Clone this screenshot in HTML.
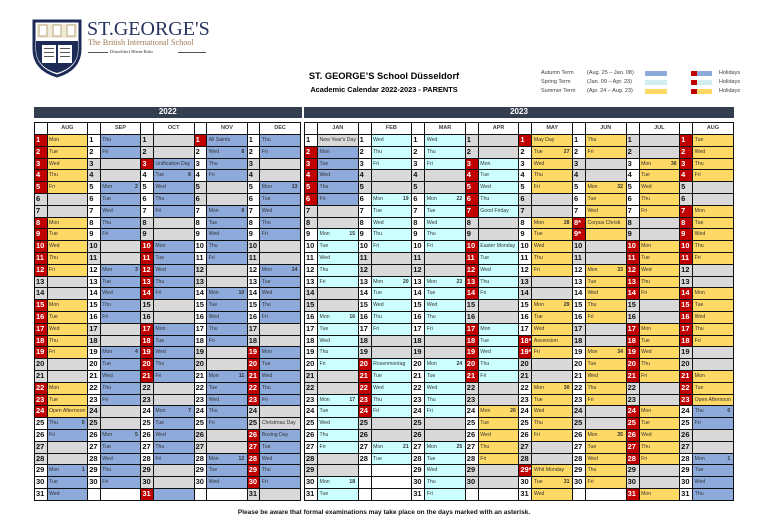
<!DOCTYPE html>
<html><head><meta charset="utf-8">
<style>
*{margin:0;padding:0}
html,body{width:768px;height:532px;background:#fff;overflow:hidden;position:relative;font-family:"Liberation Sans",sans-serif}
.abs{position:absolute}
.bar{position:absolute;top:107px;height:10.5px;background:#333f4f;color:#fff;font:bold 8px/10.5px "Liberation Sans",sans-serif;text-align:center}
.hd{position:absolute;top:122px;height:12px;display:grid;border-top:1px solid #111;border-right:1.5px solid #111;box-sizing:border-box}
.hd div{box-sizing:border-box;background:#fff;border-left:1px solid #111;font:bold 5.5px/11px "Liberation Sans",sans-serif;color:#404040;text-align:center}
.hd div.h{border-left:1.5px solid #111}
.y{position:absolute;top:134px;display:grid;grid-auto-rows:11.8px;border-top:1px solid #111;border-right:1.5px solid #111;box-sizing:content-box}
.y div{box-sizing:border-box;border-bottom:1px solid #111;overflow:hidden;white-space:nowrap;color:#333;border-left:1px solid #111;font:5.2px/10.8px "Liberation Sans",sans-serif;padding:0 1.5px}
.y div.nw,.y div.ng,.y div.nr,.y div.ne{border-left:1.5px solid #111;font:bold 7.5px/10.8px "Liberation Sans",sans-serif;padding:0 0 0 1px;color:#111}
.nw,.ne,.e{background:#fff}
.ng,.g{background:#d9d9d9}
.y div.nr{background:#c00000;color:#fff}
.b{background:#8eaadb}
.c{background:#ccffff}
.o{background:#ffd966}
.y i{float:right;font-style:normal;font-weight:bold;padding-right:1px}
.y22{left:34px;grid-template-columns:repeat(5,12.5px 40.7px)}
.y23{left:304px;grid-template-columns:repeat(8,13px 40.6px)}
.lg{position:absolute;font:5.5px/7px "Liberation Sans",sans-serif;color:#404040}
.sw{position:absolute;height:5px}
</style></head><body>

<!-- Logo -->
<svg class="abs" style="left:32px;top:19px" width="50" height="59" viewBox="0 0 50 59">
<path d="M2 2 H48 V30 Q48 50 25 57 Q2 50 2 30 Z" fill="#fff" stroke="#1d2b57" stroke-width="3"/>
<rect x="5" y="5" width="40" height="14" fill="#f2ead8"/>
<rect x="7" y="6" width="8" height="11" fill="#fff" stroke="#b9a77c" stroke-width="1"/>
<rect x="21" y="6" width="8" height="11" fill="#fff" stroke="#b9a77c" stroke-width="1"/>
<rect x="35" y="6" width="8" height="11" fill="#fff" stroke="#b9a77c" stroke-width="1"/>
<path d="M4 22 H46 V30 Q46 48 25 54 Q4 48 4 30 Z" fill="#1d2b57"/>
<rect x="10" y="26" width="30" height="18" fill="#fff"/>
<rect x="24" y="26" width="2" height="18" fill="#1d2b57"/>
<rect x="12" y="29" width="10" height="1" fill="#555"/><rect x="28" y="29" width="10" height="1" fill="#555"/>
<rect x="12" y="33" width="10" height="1" fill="#555"/><rect x="28" y="33" width="10" height="1" fill="#555"/>
<rect x="12" y="37" width="10" height="1" fill="#555"/><rect x="28" y="37" width="10" height="1" fill="#555"/>
</svg>
<div class="abs" style="left:87px;top:18px;font:20px/22px 'Liberation Serif',serif;color:#27335e">ST.GEORGE'S</div>
<div class="abs" style="left:88px;top:38px;font:8.2px/10px 'Liberation Serif',serif;color:#a07a55">The British International School</div>
<div class="abs" style="left:88px;top:52px;width:20px;height:0;border-top:0.7px solid #555"></div>
<div class="abs" style="left:110px;top:49px;font:4.6px/6px 'Liberation Serif',serif;color:#333">Düsseldorf Rhein-Ruhr</div>
<div class="abs" style="left:178px;top:52px;width:28px;height:0;border-top:0.7px solid #555"></div>

<!-- Titles -->
<div class="abs" style="left:300px;top:70px;width:168px;text-align:center;font:bold 9.3px/12px 'Liberation Sans',sans-serif;color:#000">ST. GEORGE’S School Düsseldorf</div>
<div class="abs" style="left:296px;top:85px;width:176px;text-align:center;font:bold 7.4px/10px 'Liberation Sans',sans-serif;color:#000">Academic Calendar 2022-2023 - PARENTS</div>

<!-- Legend -->
<div class="lg" style="left:541px;top:69.5px">Autumn Term</div>
<div class="lg" style="left:587px;top:69.5px">(Aug. 25 – Jan. 08)</div>
<div class="sw b" style="left:645px;top:71px;width:22px"></div>
<div class="sw" style="left:691px;top:71px;width:6px;background:#c00000"></div>
<div class="sw b" style="left:697px;top:71px;width:15px"></div>
<div class="lg" style="left:719px;top:69.5px">Holidays</div>

<div class="lg" style="left:541px;top:78.5px">Spring Term</div>
<div class="lg" style="left:587px;top:78.5px">(Jan. 09 – Apr. 23)</div>
<div class="sw c" style="left:645px;top:80px;width:22px;background:#d3eef0"></div>
<div class="sw" style="left:691px;top:80px;width:6px;background:#c00000"></div>
<div class="sw" style="left:697px;top:80px;width:15px;background:#d3eef0"></div>
<div class="lg" style="left:719px;top:78.5px">Holidays</div>

<div class="lg" style="left:541px;top:87.5px">Summer Term</div>
<div class="lg" style="left:587px;top:87.5px">(Apr. 24 – Aug. 23)</div>
<div class="sw o" style="left:645px;top:89px;width:22px"></div>
<div class="sw" style="left:691px;top:89px;width:6px;background:#c00000"></div>
<div class="sw o" style="left:697px;top:89px;width:15px"></div>
<div class="lg" style="left:719px;top:87.5px">Holidays</div>

<!-- Year bars -->
<div class="bar" style="left:34px;width:267.5px">2022</div>
<div class="bar" style="left:304px;width:430px">2023</div>

<!-- Month headers -->
<div class="hd" style="left:34px;grid-template-columns:repeat(5,12.5px 40.7px)">
<div class="h"></div><div>AUG</div><div class="h"></div><div>SEP</div><div class="h"></div><div>OCT</div><div class="h"></div><div>NOV</div><div class="h"></div><div>DEC</div>
</div>
<div class="hd" style="left:304px;grid-template-columns:repeat(8,13px 40.6px)">
<div class="h"></div><div>JAN</div><div class="h"></div><div>FEB</div><div class="h"></div><div>MAR</div><div class="h"></div><div>APR</div><div class="h"></div><div>MAY</div><div class="h"></div><div>JUN</div><div class="h"></div><div>JUL</div><div class="h"></div><div>AUG</div>
</div>

<!-- 2022 grid -->
<div class="y y22">
<div class="nr">1</div><div class="o">Mon</div><div class="nw">1</div><div class="b">Thu</div><div class="ng">1</div><div class="g"></div><div class="nr">1</div><div class="b">All Saints</div><div class="nw">1</div><div class="b">Thu</div>
<div class="nr">2</div><div class="o">Tue</div><div class="nw">2</div><div class="b">Fri</div><div class="ng">2</div><div class="g"></div><div class="nw">2</div><div class="b">Wed<i>8</i></div><div class="nw">2</div><div class="b">Fri</div>
<div class="nr">3</div><div class="o">Wed</div><div class="ng">3</div><div class="g"></div><div class="nr">3</div><div class="b">Unification Day</div><div class="nw">3</div><div class="b">Thu</div><div class="ng">3</div><div class="g"></div>
<div class="nr">4</div><div class="o">Thu</div><div class="ng">4</div><div class="g"></div><div class="nw">4</div><div class="b">Tue<i>6</i></div><div class="nw">4</div><div class="b">Fri</div><div class="ng">4</div><div class="g"></div>
<div class="nr">5</div><div class="o">Fri</div><div class="nw">5</div><div class="b">Mon<i>2</i></div><div class="nw">5</div><div class="b">Wed</div><div class="ng">5</div><div class="g"></div><div class="nw">5</div><div class="b">Mon<i>13</i></div>
<div class="ng">6</div><div class="g"></div><div class="nw">6</div><div class="b">Tue</div><div class="nw">6</div><div class="b">Thu</div><div class="ng">6</div><div class="g"></div><div class="nw">6</div><div class="b">Tue</div>
<div class="ng">7</div><div class="g"></div><div class="nw">7</div><div class="b">Wed</div><div class="nw">7</div><div class="b">Fri</div><div class="nw">7</div><div class="b">Mon<i>9</i></div><div class="nw">7</div><div class="b">Wed</div>
<div class="nr">8</div><div class="o">Mon</div><div class="nw">8</div><div class="b">Thu</div><div class="ng">8</div><div class="g"></div><div class="nw">8</div><div class="b">Tue</div><div class="nw">8</div><div class="b">Thu</div>
<div class="nr">9</div><div class="o">Tue</div><div class="nw">9</div><div class="b">Fri</div><div class="ng">9</div><div class="g"></div><div class="nw">9</div><div class="b">Wed</div><div class="nw">9</div><div class="b">Fri</div>
<div class="nr">10</div><div class="o">Wed</div><div class="ng">10</div><div class="g"></div><div class="nr">10</div><div class="b">Mon</div><div class="nw">10</div><div class="b">Thu</div><div class="ng">10</div><div class="g"></div>
<div class="nr">11</div><div class="o">Thu</div><div class="ng">11</div><div class="g"></div><div class="nr">11</div><div class="b">Tue</div><div class="nw">11</div><div class="b">Fri</div><div class="ng">11</div><div class="g"></div>
<div class="nr">12</div><div class="o">Fri</div><div class="nw">12</div><div class="b">Mon<i>3</i></div><div class="nr">12</div><div class="b">Wed</div><div class="ng">12</div><div class="g"></div><div class="nw">12</div><div class="b">Mon<i>14</i></div>
<div class="ng">13</div><div class="g"></div><div class="nw">13</div><div class="b">Tue</div><div class="nr">13</div><div class="b">Thu</div><div class="ng">13</div><div class="g"></div><div class="nw">13</div><div class="b">Tue</div>
<div class="ng">14</div><div class="g"></div><div class="nw">14</div><div class="b">Wed</div><div class="nr">14</div><div class="b">Fri</div><div class="nw">14</div><div class="b">Mon<i>10</i></div><div class="nw">14</div><div class="b">Wed</div>
<div class="nr">15</div><div class="o">Mon</div><div class="nw">15</div><div class="b">Thu</div><div class="ng">15</div><div class="g"></div><div class="nw">15</div><div class="b">Tue</div><div class="nw">15</div><div class="b">Thu</div>
<div class="nr">16</div><div class="o">Tue</div><div class="nw">16</div><div class="b">Fri</div><div class="ng">16</div><div class="g"></div><div class="nw">16</div><div class="b">Wed</div><div class="nw">16</div><div class="b">Fri</div>
<div class="nr">17</div><div class="o">Wed</div><div class="ng">17</div><div class="g"></div><div class="nr">17</div><div class="b">Mon</div><div class="nw">17</div><div class="b">Thu</div><div class="ng">17</div><div class="g"></div>
<div class="nr">18</div><div class="o">Thu</div><div class="ng">18</div><div class="g"></div><div class="nr">18</div><div class="b">Tue</div><div class="nw">18</div><div class="b">Fri</div><div class="ng">18</div><div class="g"></div>
<div class="nr">19</div><div class="o">Fri</div><div class="nw">19</div><div class="b">Mon<i>4</i></div><div class="nr">19</div><div class="b">Wed</div><div class="ng">19</div><div class="g"></div><div class="nr">19</div><div class="b">Mon</div>
<div class="ng">20</div><div class="g"></div><div class="nw">20</div><div class="b">Tue</div><div class="nr">20</div><div class="b">Thu</div><div class="ng">20</div><div class="g"></div><div class="nr">20</div><div class="b">Tue</div>
<div class="ng">21</div><div class="g"></div><div class="nw">21</div><div class="b">Wed</div><div class="nr">21</div><div class="b">Fri</div><div class="nw">21</div><div class="b">Mon<i>11</i></div><div class="nr">21</div><div class="b">Wed</div>
<div class="nr">22</div><div class="o">Mon</div><div class="nw">22</div><div class="b">Thu</div><div class="ng">22</div><div class="g"></div><div class="nw">22</div><div class="b">Tue</div><div class="nr">22</div><div class="b">Thu</div>
<div class="nr">23</div><div class="o">Tue</div><div class="nw">23</div><div class="b">Fri</div><div class="ng">23</div><div class="g"></div><div class="nw">23</div><div class="b">Wed</div><div class="nr">23</div><div class="b">Fri</div>
<div class="nr">24</div><div class="o">Open Afternoon</div><div class="ng">24</div><div class="g"></div><div class="nw">24</div><div class="b">Mon<i>7</i></div><div class="nw">24</div><div class="b">Thu</div><div class="ng">24</div><div class="g"></div>
<div class="nw">25</div><div class="b">Thu<i>0</i></div><div class="ng">25</div><div class="g"></div><div class="nw">25</div><div class="b">Tue</div><div class="nw">25</div><div class="b">Fri</div><div class="ng">25</div><div class="g">Christmas Day</div>
<div class="nw">26</div><div class="b">Fri</div><div class="nw">26</div><div class="b">Mon<i>5</i></div><div class="nw">26</div><div class="b">Wed</div><div class="ng">26</div><div class="g"></div><div class="nr">26</div><div class="b">Boxing Day</div>
<div class="ng">27</div><div class="g"></div><div class="nw">27</div><div class="b">Tue</div><div class="nw">27</div><div class="b">Thu</div><div class="ng">27</div><div class="g"></div><div class="nr">27</div><div class="b">Tue</div>
<div class="ng">28</div><div class="g"></div><div class="nw">28</div><div class="b">Wed</div><div class="nw">28</div><div class="b">Fri</div><div class="nw">28</div><div class="b">Mon<i>12</i></div><div class="nr">28</div><div class="b">Wed</div>
<div class="nw">29</div><div class="b">Mon<i>1</i></div><div class="nw">29</div><div class="b">Thu</div><div class="ng">29</div><div class="g"></div><div class="nw">29</div><div class="b">Tue</div><div class="nr">29</div><div class="b">Thu</div>
<div class="nw">30</div><div class="b">Tue</div><div class="nw">30</div><div class="b">Fri</div><div class="ng">30</div><div class="g"></div><div class="nw">30</div><div class="b">Wed</div><div class="nr">30</div><div class="b">Fri</div>
<div class="nw">31</div><div class="b">Wed</div><div class="ne"></div><div class="e"></div><div class="nr">31</div><div class="b"></div><div class="ne"></div><div class="e"></div><div class="ng">31</div><div class="g"></div>
</div>

<!-- 2023 grid -->
<div class="y y23">
<div class="nw">1</div><div class="g">New Year's Day</div><div class="nw">1</div><div class="c">Wed</div><div class="nw">1</div><div class="c">Wed</div><div class="ng">1</div><div class="g"></div><div class="nr">1</div><div class="o">May Day</div><div class="nw">1</div><div class="o">Thu</div><div class="ng">1</div><div class="g"></div><div class="nr">1</div><div class="o">Tue</div>
<div class="nr">2</div><div class="b">Mon</div><div class="nw">2</div><div class="c">Thu</div><div class="nw">2</div><div class="c">Thu</div><div class="ng">2</div><div class="g"></div><div class="nw">2</div><div class="o">Tue<i>27</i></div><div class="nw">2</div><div class="o">Fri</div><div class="ng">2</div><div class="g"></div><div class="nr">2</div><div class="o">Wed</div>
<div class="nr">3</div><div class="b">Tue</div><div class="nw">3</div><div class="c">Fri</div><div class="nw">3</div><div class="c">Fri</div><div class="nr">3</div><div class="c">Mon</div><div class="nw">3</div><div class="o">Wed</div><div class="ng">3</div><div class="g"></div><div class="nw">3</div><div class="o">Mon<i>36</i></div><div class="nr">3</div><div class="o">Thu</div>
<div class="nr">4</div><div class="b">Wed</div><div class="ng">4</div><div class="g"></div><div class="ng">4</div><div class="g"></div><div class="nr">4</div><div class="c">Tue</div><div class="nw">4</div><div class="o">Thu</div><div class="ng">4</div><div class="g"></div><div class="nw">4</div><div class="o">Tue</div><div class="nr">4</div><div class="o">Fri</div>
<div class="nr">5</div><div class="b">Thu</div><div class="ng">5</div><div class="g"></div><div class="ng">5</div><div class="g"></div><div class="nr">5</div><div class="c">Wed</div><div class="nw">5</div><div class="o">Fri</div><div class="nw">5</div><div class="o">Mon<i>32</i></div><div class="nw">5</div><div class="o">Wed</div><div class="ng">5</div><div class="g"></div>
<div class="nr">6</div><div class="b">Fri</div><div class="nw">6</div><div class="c">Mon<i>19</i></div><div class="nw">6</div><div class="c">Mon<i>22</i></div><div class="nr">6</div><div class="c">Thu</div><div class="ng">6</div><div class="g"></div><div class="nw">6</div><div class="o">Tue</div><div class="nw">6</div><div class="o">Thu</div><div class="ng">6</div><div class="g"></div>
<div class="ng">7</div><div class="g"></div><div class="nw">7</div><div class="c">Tue</div><div class="nw">7</div><div class="c">Tue</div><div class="nr">7</div><div class="c">Good Friday</div><div class="ng">7</div><div class="g"></div><div class="nw">7</div><div class="o">Wed</div><div class="nw">7</div><div class="o">Fri</div><div class="nr">7</div><div class="o">Mon</div>
<div class="ng">8</div><div class="g"></div><div class="nw">8</div><div class="c">Wed</div><div class="nw">8</div><div class="c">Wed</div><div class="ng">8</div><div class="g"></div><div class="nw">8</div><div class="o">Mon<i>28</i></div><div class="nr">8*</div><div class="o">Corpus Christi</div><div class="ng">8</div><div class="g"></div><div class="nr">8</div><div class="o">Tue</div>
<div class="nw">9</div><div class="c">Mon<i>15</i></div><div class="nw">9</div><div class="c">Thu</div><div class="nw">9</div><div class="c">Thu</div><div class="ng">9</div><div class="g"></div><div class="nw">9</div><div class="o">Tue</div><div class="nr">9*</div><div class="o"></div><div class="ng">9</div><div class="g"></div><div class="nr">9</div><div class="o">Wed</div>
<div class="nw">10</div><div class="c">Tue</div><div class="nw">10</div><div class="c">Fri</div><div class="nw">10</div><div class="c">Fri</div><div class="nr">10</div><div class="c">Easter Monday</div><div class="nw">10</div><div class="o">Wed</div><div class="ng">10</div><div class="g"></div><div class="nr">10</div><div class="o">Mon</div><div class="nr">10</div><div class="o">Thu</div>
<div class="nw">11</div><div class="c">Wed</div><div class="ng">11</div><div class="g"></div><div class="ng">11</div><div class="g"></div><div class="nr">11</div><div class="c">Tue</div><div class="nw">11</div><div class="o">Thu</div><div class="ng">11</div><div class="g"></div><div class="nr">11</div><div class="o">Tue</div><div class="nr">11</div><div class="o">Fri</div>
<div class="nw">12</div><div class="c">Thu</div><div class="ng">12</div><div class="g"></div><div class="ng">12</div><div class="g"></div><div class="nr">12</div><div class="c">Wed</div><div class="nw">12</div><div class="o">Fri</div><div class="nw">12</div><div class="o">Mon<i>33</i></div><div class="nr">12</div><div class="o">Wed</div><div class="ng">12</div><div class="g"></div>
<div class="nw">13</div><div class="c">Fri</div><div class="nw">13</div><div class="c">Mon<i>20</i></div><div class="nw">13</div><div class="c">Mon<i>23</i></div><div class="nr">13</div><div class="c">Thu</div><div class="ng">13</div><div class="g"></div><div class="nw">13</div><div class="o">Tue</div><div class="nr">13</div><div class="o">Thu</div><div class="ng">13</div><div class="g"></div>
<div class="ng">14</div><div class="g"></div><div class="nw">14</div><div class="c">Tue</div><div class="nw">14</div><div class="c">Tue</div><div class="nr">14</div><div class="c">Fri</div><div class="ng">14</div><div class="g"></div><div class="nw">14</div><div class="o">Wed</div><div class="nr">14</div><div class="o">Fri</div><div class="nr">14</div><div class="o">Mon</div>
<div class="ng">15</div><div class="g"></div><div class="nw">15</div><div class="c">Wed</div><div class="nw">15</div><div class="c">Wed</div><div class="ng">15</div><div class="g"></div><div class="nw">15</div><div class="o">Mon<i>29</i></div><div class="nw">15</div><div class="o">Thu</div><div class="ng">15</div><div class="g"></div><div class="nr">15</div><div class="o">Tue</div>
<div class="nw">16</div><div class="c">Mon<i>16</i></div><div class="nw">16</div><div class="c">Thu</div><div class="nw">16</div><div class="c">Thu</div><div class="ng">16</div><div class="g"></div><div class="nw">16</div><div class="o">Tue</div><div class="nw">16</div><div class="o">Fri</div><div class="ng">16</div><div class="g"></div><div class="nr">16</div><div class="o">Wed</div>
<div class="nw">17</div><div class="c">Tue</div><div class="nw">17</div><div class="c">Fri</div><div class="nw">17</div><div class="c">Fri</div><div class="nr">17</div><div class="c">Mon</div><div class="nw">17</div><div class="o">Wed</div><div class="ng">17</div><div class="g"></div><div class="nr">17</div><div class="o">Mon</div><div class="nr">17</div><div class="o">Thu</div>
<div class="nw">18</div><div class="c">Wed</div><div class="ng">18</div><div class="g"></div><div class="ng">18</div><div class="g"></div><div class="nr">18</div><div class="c">Tue</div><div class="nr">18*</div><div class="o">Ascension</div><div class="ng">18</div><div class="g"></div><div class="nr">18</div><div class="o">Tue</div><div class="nr">18</div><div class="o">Fri</div>
<div class="nw">19</div><div class="c">Thu</div><div class="ng">19</div><div class="g"></div><div class="ng">19</div><div class="g"></div><div class="nr">19</div><div class="c">Wed</div><div class="nr">19*</div><div class="o">Fri</div><div class="nw">19</div><div class="o">Mon<i>34</i></div><div class="nr">19</div><div class="o">Wed</div><div class="ng">19</div><div class="g"></div>
<div class="nw">20</div><div class="c">Fri</div><div class="nr">20</div><div class="c">Rosenmontag</div><div class="nw">20</div><div class="c">Mon<i>24</i></div><div class="nr">20</div><div class="c">Thu</div><div class="ng">20</div><div class="g"></div><div class="nw">20</div><div class="o">Tue</div><div class="nr">20</div><div class="o">Thu</div><div class="ng">20</div><div class="g"></div>
<div class="ng">21</div><div class="g"></div><div class="nr">21</div><div class="c">Tue</div><div class="nw">21</div><div class="c">Tue</div><div class="nr">21</div><div class="c">Fri</div><div class="ng">21</div><div class="g"></div><div class="nw">21</div><div class="o">Wed</div><div class="nr">21</div><div class="o">Fri</div><div class="nr">21</div><div class="o">Mon</div>
<div class="ng">22</div><div class="g"></div><div class="nr">22</div><div class="c">Wed</div><div class="nw">22</div><div class="c">Wed</div><div class="ng">22</div><div class="g"></div><div class="nw">22</div><div class="o">Mon<i>30</i></div><div class="nw">22</div><div class="o">Thu</div><div class="ng">22</div><div class="g"></div><div class="nr">22</div><div class="o">Tue</div>
<div class="nw">23</div><div class="c">Mon<i>17</i></div><div class="nr">23</div><div class="c">Thu</div><div class="nw">23</div><div class="c">Thu</div><div class="ng">23</div><div class="g"></div><div class="nw">23</div><div class="o">Tue</div><div class="nw">23</div><div class="o">Fri</div><div class="ng">23</div><div class="g"></div><div class="nr">23</div><div class="o">Open Afternoon</div>
<div class="nw">24</div><div class="c">Tue</div><div class="nr">24</div><div class="c">Fri</div><div class="nw">24</div><div class="c">Fri</div><div class="nw">24</div><div class="o">Mon<i>26</i></div><div class="nw">24</div><div class="o">Wed</div><div class="ng">24</div><div class="g"></div><div class="nr">24</div><div class="o">Mon</div><div class="nw">24</div><div class="b">Thu<i>0</i></div>
<div class="nw">25</div><div class="c">Wed</div><div class="ng">25</div><div class="g"></div><div class="ng">25</div><div class="g"></div><div class="nw">25</div><div class="o">Tue</div><div class="nw">25</div><div class="o">Thu</div><div class="ng">25</div><div class="g"></div><div class="nr">25</div><div class="o">Tue</div><div class="nw">25</div><div class="b">Fri</div>
<div class="nw">26</div><div class="c">Thu</div><div class="ng">26</div><div class="g"></div><div class="ng">26</div><div class="g"></div><div class="nw">26</div><div class="o">Wed</div><div class="nw">26</div><div class="o">Fri</div><div class="nw">26</div><div class="o">Mon<i>35</i></div><div class="nr">26</div><div class="o">Wed</div><div class="ng">26</div><div class="g"></div>
<div class="nw">27</div><div class="c">Fri</div><div class="nw">27</div><div class="c">Mon<i>21</i></div><div class="nw">27</div><div class="c">Mon<i>25</i></div><div class="nw">27</div><div class="o">Thu</div><div class="ng">27</div><div class="g"></div><div class="nw">27</div><div class="o">Tue</div><div class="nr">27</div><div class="o">Thu</div><div class="ng">27</div><div class="g"></div>
<div class="ng">28</div><div class="g"></div><div class="nw">28</div><div class="c">Tue</div><div class="nw">28</div><div class="c">Tue</div><div class="nw">28</div><div class="o">Fri</div><div class="ng">28</div><div class="g"></div><div class="nw">28</div><div class="o">Wed</div><div class="nr">28</div><div class="o">Fri</div><div class="nw">28</div><div class="b">Mon<i>1</i></div>
<div class="ng">29</div><div class="g"></div><div class="ne"></div><div class="e"></div><div class="nw">29</div><div class="c">Wed</div><div class="ng">29</div><div class="g"></div><div class="nr">29*</div><div class="o">Whit Monday</div><div class="nw">29</div><div class="o">Thu</div><div class="ng">29</div><div class="g"></div><div class="nw">29</div><div class="b">Tue</div>
<div class="nw">30</div><div class="c">Mon<i>18</i></div><div class="ne"></div><div class="e"></div><div class="nw">30</div><div class="c">Thu</div><div class="ng">30</div><div class="g"></div><div class="nw">30</div><div class="o">Tue<i>31</i></div><div class="nw">30</div><div class="o">Fri</div><div class="ng">30</div><div class="g"></div><div class="nw">30</div><div class="b">Wed</div>
<div class="nw">31</div><div class="c">Tue</div><div class="ne"></div><div class="e"></div><div class="nw">31</div><div class="c">Fri</div><div class="ne"></div><div class="e"></div><div class="nw">31</div><div class="o">Wed</div><div class="ne"></div><div class="e"></div><div class="nr">31</div><div class="o">Mon</div><div class="nw">31</div><div class="b">Thu</div>
</div>

<div class="abs" style="left:0;top:508px;width:768px;text-align:center;font:bold 6.5px/9px 'Liberation Sans',sans-serif;color:#111">Please be aware that formal examinations may take place on the days marked with an asterisk.</div>
</body></html>
